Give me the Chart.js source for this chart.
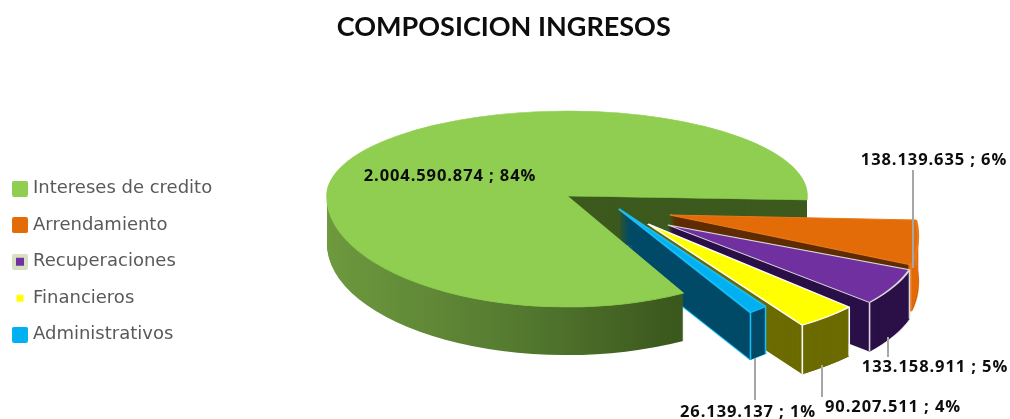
<!DOCTYPE html>
<html>
<head>
<meta charset="utf-8">
<title>Composicion ingresos</title>
<script src="https://cdn.jsdelivr.net/npm/chart.js@4/dist/chart.umd.min.js"></script>
<style>
  html, body { margin: 0; padding: 0; background: #fff; }
  canvas { display: block; }
</style>
</head>
<body>
<canvas id="chart" width="1010" height="419"></canvas>
<script>
const categories = ['Intereses de credito', 'Arrendamiento', 'Recuperaciones', 'Financieros', 'Administrativos'];
const ingresos = [2004590874, 138139635, 133158911, 90207511, 26139137];
const percents = [84, 6, 5, 4, 1];

const topColors = ['#8fce50', '#e36c09', '#7030a0', '#ffff00', '#00b0f0'];
const edgeColors = ['#9bd860', '#e8781a', '#d9d9d9', '#ffffff', '#19bdf5'];
const wallColors = ['#3d5a1e', '#5f2d02', '#2b1048', '#6b6b00', '#004a68'];
const rimColors = ['#3d5a1e', '#e36c09', '#2b1048', '#6b6b00', '#004a68'];

// ── 3D LOOK ──────────────────────────────────────────────────
// each slice is drawn by its own arc element, through a per slice matrix
const RADIUS = 240;
const TURN = 2.3 * Math.PI / 180;
const bigBack =  { x: 567, y: 196, a: 1, b: 0, c: 0, d: 0.354, depth: 48, turn: 0 };
const bigFront = { x: 567, y: 196, a: 1, b: 0, c: 0, d: 0.4625, depth: 48, turn: 0 };
const views = [
  bigFront,
  { x: 670, y: 215, a: 1.01, b: 0.22, c: -0.025, d: 0.53, depth: 46, turn: TURN },
  { x: 668, y: 225, a: 1.04, b: 0.16, c: -0.02, d: 0.47, depth: 49, turn: TURN },
  { x: 648, y: 224, a: 1.11, b: 0.09, c: -0.017, d: 0.50, depth: 49, turn: TURN },
  { x: 619, y: 209, a: 1.08, b: 0.07, c: -0.125, d: 0.546, depth: 47, turn: TURN },
];

// label centre, then the leader line under it
const labelSpots = [
  { x: 450, y: 176 },
  { x: 934, y: 160, line: [913, 170, 913, 268] },
  { x: 935, y: 367, line: [888, 337, 888, 357] },
  { x: 893, y: 407, line: [822, 365, 822, 397] },
  { x: 748, y: 412, line: [755, 358, 755, 400] },
];

const fmt = (n) => String(n).replace(/\B(?=(\d{3})+$)/g, '.');

function applyView(ctx, arc, v, dy) {
  const k = RADIUS / arc.outerRadius;
  ctx.translate(v.x, v.y + dy);
  ctx.transform(v.a * k, v.c * k, v.b * k, v.d * k, 0, 0);
  ctx.rotate(v.turn);
  ctx.translate(-arc.x, -arc.y);
}

function drawArc(ctx, arc, v, dy, over) {
  const copy = Object.create(arc);
  Object.assign(copy, over.props || {});
  copy.options = Object.assign({}, arc.options, over.style);
  ctx.save();
  applyView(ctx, arc, v, dy);
  copy.draw(ctx);
  ctx.restore();
}

function drawStack(ctx, arc, v, fill, props) {
  for (let dy = v.depth; dy >= 1; dy--) {
    drawArc(ctx, arc, v, dy, { props, style: { backgroundColor: fill, borderColor: fill, borderWidth: 0 } });
  }
}

function cornerLines(ctx, arc, v, color) {
  [arc.startAngle, arc.endAngle].forEach(ang => {
    const cx = Math.cos(ang + v.turn) * RADIUS, cy = Math.sin(ang + v.turn) * RADIUS;
    const px = v.x + v.a * cx + v.b * cy;
    const py = v.y + v.c * cx + v.d * cy;
    ctx.beginPath();
    ctx.moveTo(px, py);
    ctx.lineTo(px, py + v.depth);
    ctx.strokeStyle = color;
    ctx.lineWidth = 1.6;
    ctx.stroke();
  });
}

const pie3d = {
  id: 'pie3d',
  beforeDatasetsDraw(chart) {
    const ctx = chart.ctx;
    const arcs = chart.getDatasetMeta(0).data;
    const green = arcs[0];
    // near half of the big slice is closer to the viewer, so it gets a taller ellipse
    const farPart = { startAngle: Math.PI, circumference: green.endAngle - Math.PI };
    const nearPart = { endAngle: Math.PI, circumference: Math.PI - green.startAngle };

    const sideFill = ctx.createLinearGradient(330, 0, 686, 0);
    sideFill.addColorStop(0, '#8aba4f');
    sideFill.addColorStop(0.35, '#6f9a3f');
    sideFill.addColorStop(0.7, '#557b30');
    sideFill.addColorStop(1, '#3b581d');

    // back of the big slice first, the exploded slices sit in front of it
    drawStack(ctx, green, bigBack, wallColors[0], farPart);

    [1, 2, 3, 4].forEach(i => {
      const arc = arcs[i], v = views[i];
      const bottom = { style: { backgroundColor: wallColors[i], borderColor: edgeColors[i], borderWidth: 1.4 } };
      drawArc(ctx, arc, v, v.depth, bottom);
      drawStack(ctx, arc, v, wallColors[i]);
      drawStack(ctx, arc, v, rimColors[i], { innerRadius: arc.outerRadius - 2 });
      cornerLines(ctx, arc, v, edgeColors[i]);
      drawArc(ctx, arc, v, 0, { style: { backgroundColor: topColors[i], borderColor: edgeColors[i], borderWidth: 1.4 } });
    });

    // front wall and top of the big slice go over the blue slice
    const topStyle = { backgroundColor: topColors[0], borderColor: topColors[0], borderWidth: 1 };
    drawStack(ctx, green, bigFront, sideFill, nearPart);
    drawArc(ctx, green, bigBack, 0, { props: farPart, style: topStyle });
    drawArc(ctx, green, bigFront, 0, { props: nearPart, style: topStyle });

    // leader lines and value labels
    labelSpots.forEach((s, i) => {
      if (s.line) {
        ctx.beginPath();
        ctx.moveTo(s.line[0], s.line[1]);
        ctx.lineTo(s.line[2], s.line[3]);
        ctx.strokeStyle = '#a6a6a6';
        ctx.lineWidth = 2;
        ctx.stroke();
      }
      ctx.font = 'bold 16.5px "Open Sans"';
      ctx.letterSpacing = '0.9px';
      ctx.fillStyle = '#0d0d0d';
      ctx.textAlign = 'center';
      ctx.textBaseline = 'middle';
      ctx.fillText(`${fmt(ingresos[i])} ; ${percents[i]}%`, s.x, s.y);
      ctx.letterSpacing = '0px';
    });
    return false;
  },
};

function legendIcon(outer, inner, innerSize) {
  const c = document.createElement('canvas');
  c.width = 16; c.height = 16;
  const g = c.getContext('2d');
  if (outer) {
    g.fillStyle = outer;
    g.beginPath();
    g.roundRect(0, 0, 16, 16, 2);
    g.fill();
  }
  const o = (16 - innerSize) / 2;
  g.fillStyle = inner;
  g.beginPath();
  g.roundRect(o, o, innerSize, innerSize, innerSize === 16 ? 2 : 0);
  g.fill();
  return c;
}

const icons = [
  legendIcon(null, topColors[0], 16),
  legendIcon(null, topColors[1], 16),
  legendIcon('#d8e0c4', topColors[2], 8),
  legendIcon(null, topColors[3], 7),
  legendIcon(null, topColors[4], 16),
];

new Chart(document.getElementById('chart'), {
  type: 'pie',
  data: {
    labels: categories,
    datasets: [{ data: ingresos, backgroundColor: topColors, borderWidth: 0 }],
  },
  plugins: [pie3d],
  options: {
    responsive: false,
    animation: false,
    rotation: 151,
    layout: { padding: { left: -2.5 } },
    plugins: {
      tooltip: { enabled: false },
      title: {
        display: true,
        text: 'COMPOSICION INGRESOS',
        color: '#0d0d0d',
        font: { family: 'Lato', size: 27, weight: 'bold' },
        padding: { top: 11, bottom: 61 },
      },
      legend: {
        position: 'left',
        fullSize: false,
        labels: {
          usePointStyle: true,
          boxWidth: 8,
          boxHeight: 16,
          padding: 18.5,
          color: '#595959',
          font: { family: 'DejaVu Sans', size: 18 },
          generateLabels: () => categories.map((name, i) => ({
            text: name,
            pointStyle: icons[i],
            fontColor: '#595959',
            hidden: false,
            index: i,
          })),
        },
      },
    },
  },
});
</script>
</body>
</html>
